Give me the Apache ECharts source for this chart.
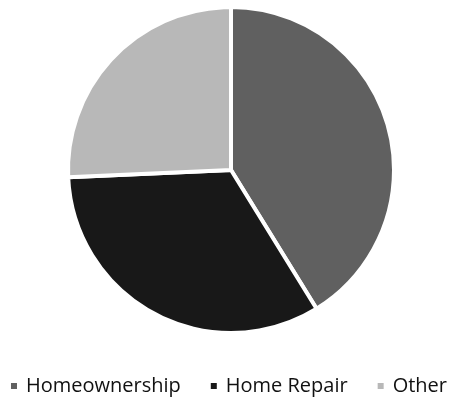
<!DOCTYPE html>
<html><head><meta charset="utf-8">
<script src="https://cdn.jsdelivr.net/npm/echarts@6/dist/echarts.min.js"></script>
<style>html,body{margin:0;padding:0;background:#fff}#c{width:456px;height:400px}</style>
</head><body><div id="c"></div>
<script>
const categories = ['Homeownership', 'Home Repair', 'Other'];
const values = [41.2, 33.1, 25.7];
const colors = ['#606060', '#181818', '#b8b8b8'];

const chart = echarts.init(document.getElementById('c'), null, {renderer: 'canvas'});
chart.setOption({
  animation: false,
  color: colors,
  legend: {
    data: categories,
    bottom: -1,
    left: 'center',
    icon: 'rect',
    itemWidth: 8,
    itemHeight: 8,
    itemGap: 28,
    textStyle: {fontFamily: 'Open Sans', fontSize: 20, color: '#111', padding: [0, 0, 0, 3]}
  },
  series: [{
    type: 'pie',
    center: [231, 170],
    radius: [0, 163],
    startAngle: 90,
    clockwise: true,
    label: {show: false},
    labelLine: {show: false},
    itemStyle: {borderColor: '#fff', borderWidth: 4},
    data: categories.map((n, i) => ({name: n, value: values[i]}))
  }]
});
</script></body></html>
